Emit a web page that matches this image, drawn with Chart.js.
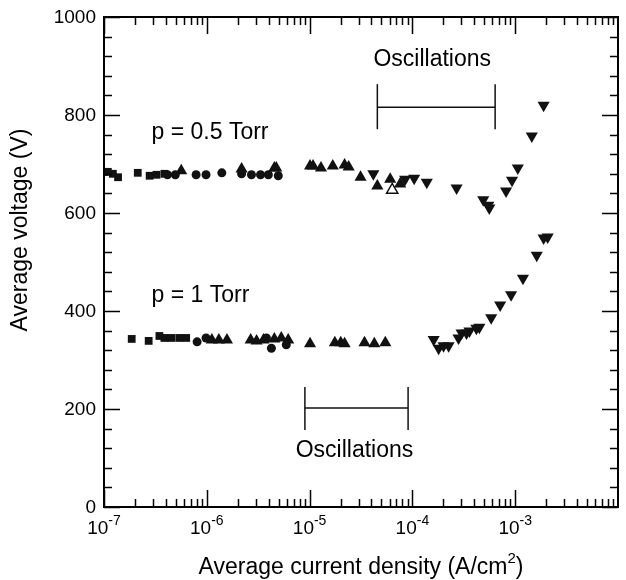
<!DOCTYPE html>
<html>
<head>
<meta charset="utf-8">
<script src="https://cdn.jsdelivr.net/npm/chart.js@4"></script>
<style>
  html, body { margin: 0; padding: 0; background: #fff; }
  canvas { display: block; }
</style>
</head>
<body>
<canvas id="chart" width="626" height="580"></canvas>
<script>

// axis ranges and ticks
const xMin = 1e-7;
const xMax = 1e-2;
const yMin = 0;
const yMax = 1000;
const xLabelDecades = [-7, -6, -5, -4, -3];
const yLabels = [0, 200, 400, 600, 800, 1000];
const yMinorStep = 40;

// p = 0.5 Torr  [current density, voltage]
const squares05 = [[1.0e-7, 684], [1.09e-7, 684], [1.22e-7, 680], [1.37e-7, 673], [2.13e-7, 682],
  [2.78e-7, 676], [3.24e-7, 678], [3.87e-7, 680]];
const circles05 = [[4.14e-7, 678], [4.94e-7, 678], [7.87e-7, 678], [9.83e-7, 678], [1.4e-6, 682],
  [2.18e-6, 680], [2.72e-6, 678], [3.33e-6, 678], [3.97e-6, 678], [4.96e-6, 676]];
const upTri05 = [[5.64e-7, 686], [2.18e-6, 690], [4.54e-6, 692], [4.74e-6, 692], [1.01e-5, 696],
  [1.08e-5, 696], [1.29e-5, 692], [1.68e-5, 696], [2.19e-5, 698], [2.4e-5, 694], [3.13e-5, 673],
  [4.56e-5, 655], [6.08e-5, 669], [7.6e-5, 659]];
const openTri05 = [[6.36e-5, 647]];
const downTri05 = [[4.17e-5, 680], [8.49e-5, 669], [1.04e-4, 671], [1.38e-4, 663], [2.69e-4, 651],
  [4.89e-4, 627], [5.47e-4, 616], [5.6e-4, 610], [8.15e-4, 645], [9.31e-4, 667], [1.06e-3, 692],
  [1.45e-3, 757], [1.89e-3, 820]];

// p = 1 Torr
const squares1 = [[1.86e-7, 343], [2.72e-7, 339], [3.46e-7, 349], [3.87e-7, 345], [4.52e-7, 345],
  [5.4e-7, 345], [6.3e-7, 345]];
const circles1 = [[8.05e-7, 337], [9.83e-7, 345], [3.8e-6, 345], [4.25e-6, 324], [5.93e-6, 331]];
const upTri1 = [[1.12e-6, 341], [1.31e-6, 341], [1.57e-6, 341], [2.67e-6, 341], [3.05e-6, 339],
  [3.56e-6, 341], [4.54e-6, 343], [5.3e-6, 345], [6.19e-6, 341], [1.01e-5, 333], [1.76e-5, 335],
  [2.01e-5, 335], [2.19e-5, 333], [3.42e-5, 335], [4.26e-5, 333], [5.45e-5, 335]];
const downTri1 = [[1.61e-4, 342], [1.8e-4, 324], [2.01e-4, 329], [2.25e-4, 329], [2.81e-4, 345],
  [3.01e-4, 355], [3.36e-4, 355], [3.59e-4, 359], [4.19e-4, 365], [4.48e-4, 367], [5.84e-4, 386],
  [7.14e-4, 412], [9.12e-4, 433], [1.19e-3, 467], [1.62e-3, 514], [1.89e-3, 549], [2.07e-3, 551]];

// oscillation ranges: [from, to] current density, bracket level and bar ends in volts
const oscHighRange = [4.56e-5, 6.38e-4];
const oscHighLevels = [816, 771, 863];
const oscLowRange = [9.0e-6, 9.08e-5];
const oscLowLevels = [202, 157, 245];

const FONT = '"Liberation Sans", Arial, Helvetica, sans-serif';
const INK = '#111';

const toPoints = (arr) => arr.map(p => ({ x: p[0], y: p[1] }));

const markerSet = (data, style, radius, rotation, fill) => ({
  data: toPoints(data),
  showLine: false,
  pointStyle: style,
  pointRadius: radius,
  pointRotation: rotation || 0,
  pointBackgroundColor: fill || INK,
  pointBorderColor: INK,
  pointBorderWidth: fill ? 1.5 : 0,
});

// bracket = horizontal line plus two end bars, all as line datasets
const bracketSets = (range, levels) => [
  [[range[0], levels[0]], [range[1], levels[0]]],
  [[range[0], levels[1]], [range[0], levels[2]]],
  [[range[1], levels[1]], [range[1], levels[2]]],
].map(seg => ({
  data: toPoints(seg),
  showLine: true,
  borderColor: INK,
  borderWidth: 1.5,
  pointRadius: 0,
}));

const datasets = [
  markerSet(squares05, 'rect', 5.5),
  markerSet(circles05, 'circle', 4.5),
  markerSet(upTri05, 'triangle', 7),
  markerSet(openTri05, 'triangle', 6.5, 0, '#fff'),
  markerSet(downTri05, 'triangle', 7, 180),
  markerSet(squares1, 'rect', 5.5),
  markerSet(circles1, 'circle', 4.5),
  markerSet(upTri1, 'triangle', 7),
  markerSet(downTri1, 'triangle', 7, 180),
  ...bracketSets(oscHighRange, oscHighLevels),
  ...bracketSets(oscLowRange, oscLowLevels),
];

// draws the boxed frame, inward ticks, tick labels, titles and notes
const frameAndText = {
  id: 'frameAndText',
  afterDatasetsDraw(chart) {
    const { ctx, chartArea: a, scales: { x, y } } = chart;
    ctx.save();
    ctx.strokeStyle = '#000';
    ctx.fillStyle = '#000';

    // y ticks, both sides
    ctx.lineWidth = 1.5;
    for (let v = yMin; v <= yMax; v += yMinorStep) {
      const py = Math.round(y.getPixelForValue(v)) + 0.5;
      const len = v % 200 === 0 ? 16 : 8;
      ctx.beginPath();
      ctx.moveTo(a.left, py); ctx.lineTo(a.left + len, py);
      ctx.moveTo(a.right, py); ctx.lineTo(a.right - len, py);
      ctx.stroke();
    }

    // x ticks, top and bottom
    for (let d = -7; d < -2; d++) {
      for (let m = 1; m <= 9; m++) {
        const px = Math.round(x.getPixelForValue(m * Math.pow(10, d))) + 0.5;
        const len = m === 1 ? 17 : 8;
        ctx.beginPath();
        ctx.moveTo(px, a.bottom); ctx.lineTo(px, a.bottom - len);
        ctx.moveTo(px, a.top); ctx.lineTo(px, a.top + len);
        ctx.stroke();
      }
    }

    ctx.lineWidth = 2;
    ctx.strokeRect(a.left, a.top, a.right - a.left, a.bottom - a.top);

    // y tick labels
    ctx.font = '19px ' + FONT;
    ctx.textAlign = 'right';
    ctx.textBaseline = 'middle';
    yLabels.forEach(v => {
      ctx.fillText(String(v), a.left - 8, y.getPixelForValue(v) + 1);
    });

    // x tick labels with superscript exponents
    ctx.textAlign = 'left';
    ctx.textBaseline = 'alphabetic';
    xLabelDecades.forEach(d => {
      const px = x.getPixelForValue(Math.pow(10, d));
      ctx.font = '19px ' + FONT;
      const wBase = ctx.measureText('10').width;
      ctx.font = '14px ' + FONT;
      const sup = '-' + Math.abs(d);
      const wSup = ctx.measureText(sup).width;
      const left = px - (wBase + wSup) / 2;
      ctx.font = '19px ' + FONT;
      ctx.fillText('10', left, 534);
      ctx.font = '14px ' + FONT;
      ctx.fillText(sup, left + wBase, 525);
    });

    // x title
    ctx.font = '23px ' + FONT;
    const t1 = 'Average current density (A/cm';
    const t2 = ')';
    const w1 = ctx.measureText(t1).width;
    const w3 = ctx.measureText(t2).width;
    ctx.font = '15px ' + FONT;
    const w2 = ctx.measureText('2').width;
    const cx = (a.left + a.right) / 2;
    let tx = cx - (w1 + w2 + w3) / 2;
    ctx.font = '23px ' + FONT;
    ctx.fillText(t1, tx, 574);
    ctx.font = '15px ' + FONT;
    ctx.fillText('2', tx + w1, 563);
    ctx.font = '23px ' + FONT;
    ctx.fillText(t2, tx + w1 + w2, 574);

    // y title
    ctx.save();
    ctx.translate(21, 230);
    ctx.rotate(-Math.PI / 2);
    ctx.textAlign = 'center';
    ctx.textBaseline = 'middle';
    ctx.font = '23px ' + FONT;
    ctx.fillText('Average voltage (V)', 0, 0);
    ctx.restore();

    // notes inside the plot
    ctx.font = '23px ' + FONT;
    ctx.textBaseline = 'middle';
    ctx.textAlign = 'left';
    ctx.fillText('p = 0.5 Torr', x.getPixelForValue(2.9e-7), y.getPixelForValue(763));
    ctx.fillText('p = 1 Torr', x.getPixelForValue(2.9e-7), y.getPixelForValue(431));
    ctx.textAlign = 'center';
    const midHigh = Math.sqrt(oscHighRange[0] * oscHighRange[1]);
    const midLow = Math.sqrt(oscLowRange[0] * oscLowRange[1]);
    ctx.fillText('Oscillations', x.getPixelForValue(midHigh) - 4, y.getPixelForValue(912));
    ctx.fillText('Oscillations', x.getPixelForValue(midLow) - 2, y.getPixelForValue(116));

    ctx.restore();
  }
};

new Chart(document.getElementById('chart'), {
  type: 'scatter',
  data: { datasets: datasets },
  options: {
    responsive: false,
    animation: false,
    devicePixelRatio: 1,
    layout: { padding: { left: 104, right: 3, top: 17, bottom: 73 } },
    plugins: { legend: { display: false }, tooltip: { enabled: false } },
    scales: {
      x: { type: 'logarithmic', min: xMin, max: xMax, display: false },
      y: { type: 'linear', min: yMin, max: yMax, display: false },
    },
  },
  plugins: [frameAndText],
});
</script>
</body>
</html>
